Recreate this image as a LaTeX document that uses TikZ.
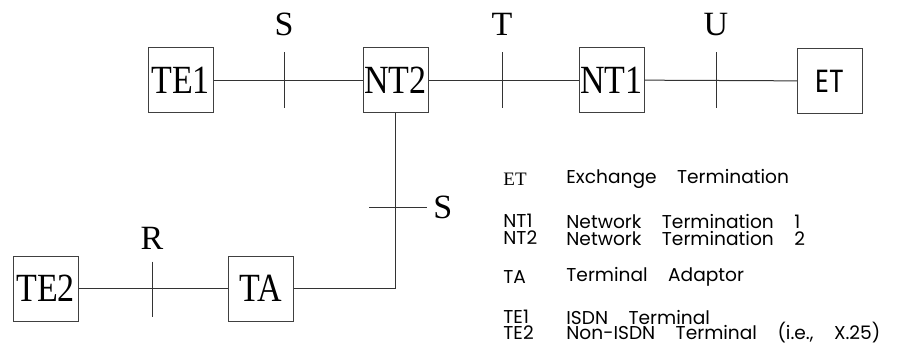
\documentclass[tikz,border=0pt]{standalone}
\usepackage{fontspec}
\setmainfont{Liberation Serif}
\newfontfamily\legendfont{Poppins}
\usetikzlibrary{positioning}
\newcommand{\narrowtxt}[1]{\scalebox{0.85}[1]{#1}}

\begin{document}
\begin{tikzpicture}[
    x=0.5pt, y=-0.5pt,
    node distance=7pt,
    wire/.style={draw=black!80, line width=0.5pt},
    unit/.style={draw=black!75, line width=0.5pt, minimum width=32.5pt, minimum height=32.5pt, inner sep=0pt, font=\fontsize{20}{22}\selectfont},
    tick/.style={inner sep=0pt, minimum width=0pt, minimum height=27.5pt},
    htick/.style={inner sep=0pt, minimum height=0pt, minimum width=28.5pt},
    refpt/.style={inner sep=1pt, font=\fontsize{17}{19}\selectfont},
    abbr/.style={anchor=west, inner sep=0pt, font=\fontsize{9.5}{11}\selectfont},
    descr/.style={anchor=west, inner sep=0pt, font={\legendfont\fontsize{9.3}{11}\selectfont\spaceskip=1.1em\relax}}
  ]
  \useasboundingbox (0,0) rectangle (898,355);

  % top row
  \node[unit] (te1) at (180.5,80) {\narrowtxt{TE1}};
  \node[unit] (nt2) at (395.5,80) {\narrowtxt{NT2}};
  \node[unit] (nt1) at (611.5,80) {\narrowtxt{NT1}};
  \node[unit, font=\legendfont\fontsize{16}{18}\selectfont] (et) at (830,81) {\narrowtxt{ET}};

  \draw[wire] (te1) -- (nt2);
  \draw[wire] (nt2) -- (nt1);
  \draw[wire] (nt1) -- (et);

  % reference points
  \node[tick] (refS) at (284,80) {};
  \node[tick] (refT) at (502,80) {};
  \node[tick] (refU) at (716,80) {};
  \draw[wire] (refS.north) -- (refS.south);
  \draw[wire] (refT.north) -- (refT.south);
  \draw[wire] (refU.north) -- (refU.south);
  \node[refpt, above=of refS] (lblS) {S};
  \node[refpt, above=of refT] (lblT) {T};
  \node[refpt, above=of refU] (lblU) {U};

  % bottom row
  \node[unit] (te2) at (45.5,288.5) {\narrowtxt{TE2}};
  \node[unit] (ta) at (260.5,288.5) {\narrowtxt{TA}};

  \draw[wire] (te2) -- (ta);
  \draw[wire] (ta.east) -| (nt2.south);

  \node[tick] (refR) at (152,289.5) {};
  \draw[wire] (refR.north) -- (refR.south);
  \node[refpt, above=5pt of refR] (lblR) {R};

  \node[htick] (refS2) at (398,207) {};
  \draw[wire] (refS2.west) -- (refS2.east);
  \node[refpt, right=2pt of refS2] (lblS2) {S};

  % legend
  \node[abbr] (abET) at (503,179) {ET};
  \node[descr] (dsET) at (566,179) {Exchange Termination};
  \node[abbr, font=\legendfont\fontsize{9.3}{11}\selectfont] (abNT1) at (503,221) {NT1};
  \node[descr] (dsNT1) at (566,221) {Network Termination 1};
  \node[abbr, font=\legendfont\fontsize{9.3}{11}\selectfont] (abNT2) at (503,238) {NT2};
  \node[descr] (dsNT2) at (566,238) {Network Termination 2};
  \node[abbr, font=\legendfont\fontsize{9.3}{11}\selectfont] (abTA) at (503,277) {TA};
  \node[descr] (dsTA) at (566,277) {Terminal Adaptor};
  \node[abbr, font=\legendfont\fontsize{9.3}{11}\selectfont] (abTE1) at (503,317) {TE1};
  \node[descr] (dsTE1) at (566,317) {ISDN Terminal};
  \node[abbr, font=\legendfont\fontsize{9.3}{11}\selectfont] (abTE2) at (503,333) {TE2};
  \node[descr] (dsTE2) at (566,333) {Non-ISDN Terminal (i.e., X.25)};
\end{tikzpicture}
\end{document}
